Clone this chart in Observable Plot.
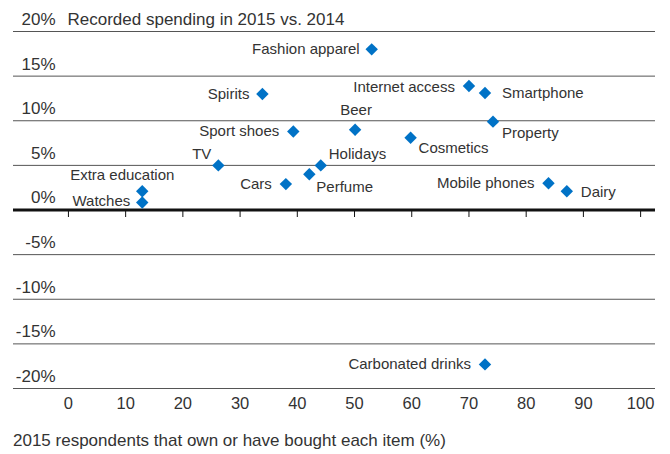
<!DOCTYPE html>
<html>
<head>
<meta charset="utf-8">
<script src="https://cdn.jsdelivr.net/npm/d3@7"></script>
<script src="https://cdn.jsdelivr.net/npm/@observablehq/plot@0.6"></script>
<style>
  html, body { margin: 0; padding: 0; background: #fff; }
  body { width: 670px; height: 454px; overflow: hidden; font-family: "Liberation Sans", Arial, sans-serif; }
  #caption { font-size: 17px; color: #333; margin: 11px 0 0 13px; line-height: 20px; }
</style>
</head>
<body>
<div id="chart"></div>
<div id="caption">2015 respondents that own or have bought each item (%)</div>
<script>
// ---- Data ----
const items = ["Fashion apparel", "Spirits", "Internet access", "Smartphone", "Beer", "Sport shoes",
  "Property", "Cosmetics", "TV", "Holidays", "Perfume", "Cars", "Extra education", "Watches",
  "Mobile phones", "Dairy", "Carbonated drinks"];
const owned = [53.0, 33.9, 70.0, 72.8, 50.1, 39.3, 74.2, 59.8, 26.2, 44.1, 42.1, 38.0, 12.9, 12.9, 83.9, 87.1, 72.8];
const spending = [18.0, 13.0, 13.9, 13.1, 9.0, 8.8, 9.9, 8.1, 5.0, 5.0, 4.0, 2.9, 2.1, 0.85, 3.0, 2.1, -17.3];
const xTicks = [0, 10, 20, 30, 40, 50, 60, 70, 80, 90, 100];
const yTicks = [-20, -15, -10, -5, 0, 5, 10, 15, 20];
const title = "Recorded spending in 2015 vs. 2014";

// label placement (style only): [textAnchor, dx, dy]
const placement = {
  "Fashion apparel": ["end", -12, 0],
  "Spirits": ["end", -13, 0],
  "Internet access": ["end", -14, 1],
  "Smartphone": ["start", 17, 0],
  "Beer": ["middle", 1, -19],
  "Sport shoes": ["end", -14, 0],
  "Property": ["start", 9, 12],
  "Cosmetics": ["start", 8, 10],
  "TV": ["end", -7, -11],
  "Holidays": ["start", 8, -11],
  "Perfume": ["start", 7, 13],
  "Cars": ["end", -14, 0],
  "Extra education": ["middle", -20, -16],
  "Watches": ["end", -12, -1],
  "Mobile phones": ["end", -14, 0],
  "Dairy": ["start", 14, 1],
  "Carbonated drinks": ["end", -14, 0]
};

const data = items.map((name, i) => ({name, owned: owned[i], spending: spending[i]}));

const tickSymbol = { draw(ctx) { ctx.moveTo(0, 1); ctx.lineTo(0, 7); } };

const textColor = "#333";
const labelMarks = data.map(d => {
  const [anchor, dx, dy] = placement[d.name];
  return Plot.text([d], {x: "owned", y: "spending", text: "name", textAnchor: anchor, dx, dy,
    fontSize: 15, fill: textColor});
});

const chart = Plot.plot({
  width: 670,
  height: 420,
  marginTop: 31,
  marginBottom: 32,
  marginLeft: 13,
  marginRight: 15,
  style: {fontFamily: "'Liberation Sans', Arial, sans-serif", fontSize: "16px", color: textColor, background: "#fff"},
  x: {domain: [-9.6, 102.6]},
  y: {domain: [-20, 20]},
  marks: [
    Plot.ruleY(yTicks.filter(d => d !== 0), {y: d => d, stroke: "#555", strokeWidth: 1}),
    Plot.ruleY([0], {y: d => d, stroke: "#111", strokeWidth: 3}),
    Plot.dot(xTicks, {x: d => d, y: 0, symbol: tickSymbol, r: 3, stroke: "#111", strokeWidth: 1, fill: "none"}),
    Plot.axisY(yTicks, {tickSize: 0, tickPadding: 0, dx: 42, dy: -12, textAnchor: "end",
      tickFormat: d => d + "%", fontSize: 17, fill: textColor, label: null}),
    Plot.axisX(xTicks, {tickSize: 0, tickPadding: 9, fontSize: 16.5, fill: textColor, label: null}),
    Plot.text([title], {frameAnchor: "top-left", textAnchor: "start", lineAnchor: "middle",
      dx: 54, dy: -12, fontSize: 17, fill: textColor}),
    Plot.dot(data, {x: "owned", y: "spending", symbol: "diamond2", r: 5.6, fill: "#0072c6"}),
    ...labelMarks
  ]
});
document.getElementById("chart").appendChild(chart);
</script>
</body>
</html>
